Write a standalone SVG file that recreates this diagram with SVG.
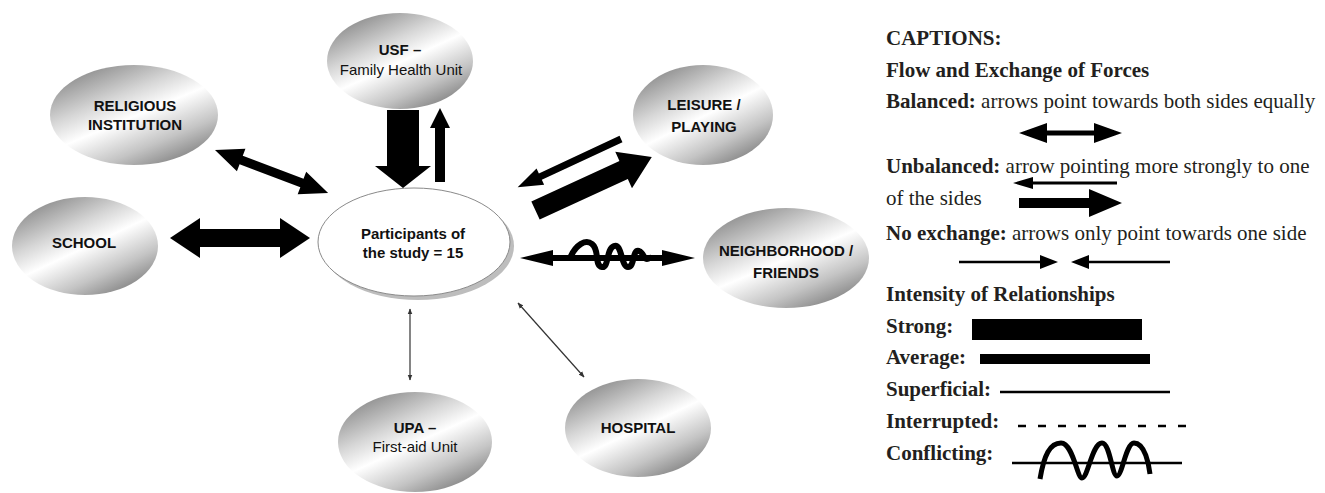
<svg xmlns="http://www.w3.org/2000/svg" width="1325" height="493" viewBox="0 0 1325 493">
<style>
.node{fill:url(#metal);}
.nl{font-family:"Liberation Sans",Arial,sans-serif;font-size:15px;fill:#111;text-anchor:middle;}
.b{font-weight:bold;}
.lg{font-family:"Liberation Serif","Times New Roman",serif;font-size:21px;fill:#231f20;}
.thin{stroke:#333;stroke-width:1.2;fill:none;marker-start:url(#sh);marker-end:url(#sh);}
.blk{fill:#000;}
</style>
<defs>
<linearGradient id="metal" x1="0" y1="0" x2="0.7" y2="1">
<stop offset="0" stop-color="#6e6e6e"/>
<stop offset="0.4" stop-color="#d6d6d6"/>
<stop offset="0.58" stop-color="#ffffff"/>
<stop offset="0.82" stop-color="#c4c4c4"/>
<stop offset="1" stop-color="#8a8a8a"/>
</linearGradient>
<marker id="sh" viewBox="0 0 10 10" refX="9" refY="5" markerWidth="5" markerHeight="5" orient="auto-start-reverse" markerUnits="strokeWidth">
<path d="M0,1 L10,5 L0,9 z" fill="#333"/>
</marker>
</defs>

<g id="node-usf"><ellipse class="node" cx="400" cy="61" rx="73" ry="48"/>
<text class="nl b" x="400" y="55">USF –</text><text class="nl" x="401" y="75">Family Health Unit</text></g>

<g id="node-religious"><ellipse class="node" cx="134" cy="115" rx="84" ry="50"/>
<text class="nl b" x="135" y="111">RELIGIOUS</text><text class="nl b" x="135" y="130">INSTITUTION</text></g>

<g id="node-school"><ellipse class="node" cx="85" cy="246" rx="73" ry="49"/>
<text class="nl b" x="84" y="248">SCHOOL</text></g>

<g id="node-center"><ellipse cx="418" cy="246" rx="96" ry="54" fill="#bdbdbd"/>
<ellipse cx="414" cy="242" rx="96" ry="54" fill="#fff" stroke="#8a8a8a" stroke-width="1"/>
<text class="nl b" x="413" y="239">Participants of</text><text class="nl b" x="413" y="258">the study = 15</text></g>

<g id="node-leisure"><ellipse class="node" cx="703" cy="115" rx="70" ry="50"/>
<text class="nl b" x="704" y="110">LEISURE /</text><text class="nl b" x="704" y="132">PLAYING</text></g>

<g id="node-neighborhood"><ellipse class="node" cx="786" cy="258" rx="83" ry="50"/>
<text class="nl b" x="786" y="256">NEIGHBORHOOD /</text><text class="nl b" x="786" y="278">FRIENDS</text></g>

<g id="node-upa"><ellipse class="node" cx="415" cy="442" rx="77" ry="50"/>
<text class="nl b" x="415" y="433">UPA –</text><text class="nl" x="415" y="452">First-aid Unit</text></g>

<g id="node-hospital"><ellipse class="node" cx="638" cy="428" rx="73" ry="49"/>
<text class="nl b" x="638" y="433">HOSPITAL</text></g>

<g id="connectors">
<!-- religious <-> center -->
<polygon class="blk" transform="translate(215,150) rotate(20.8)" points="0,0 28,-12 28,-4.5 93,-4.5 93,-12 121,0 93,12 93,4.5 28,4.5 28,12"/>
<!-- school <-> center -->
<polygon class="blk" points="170,238 200,218 200,229 280,229 280,218 310,238 280,258 280,247 200,247 200,258"/>
<!-- USF -> center (strong) -->
<polygon class="blk" points="387,110 419,110 419,166 431,166 403,188 375,166 387,166"/>
<!-- center -> USF (weak) -->
<polygon class="blk" points="435,182 445,182 445,128 450,128 440,108 430,128 435,128"/>
<!-- center -> leisure (strong) -->
<polygon class="blk" transform="translate(535.5,210.5) rotate(-24.7)" points="0,-10 97,-10 97,-20 128,0 97,20 97,10 0,10"/>
<!-- leisure -> center (weak) -->
<polygon class="blk" transform="translate(621,139) rotate(155)" points="0,-3.5 89,-3.5 89,-9 114,0 89,9 89,3.5 0,3.5"/>
<!-- neighborhood conflicting -->
<polygon class="blk" points="520,258 553,250 553,255 662,255 662,250 695,258 662,266 662,261 553,261 553,266"/>
<path d="M570,258 C576,244 586,239 592,244 C600,250 594,266 602,267 C609,268 606,249 614,246 C622,243 621,267 628,267 C635,267 632,249 639,251 C645,253 643,262 650,258" fill="none" stroke="#000" stroke-width="6" stroke-linecap="round"/>
<!-- UPA -->
<line class="thin" x1="410" y1="309" x2="410" y2="380"/>
<!-- hospital -->
<line class="thin" x1="518" y1="303" x2="584" y2="377"/>
</g>

<g id="legend">
<text class="lg b" x="886" y="45">CAPTIONS:</text>
<text class="lg b" x="886" y="77">Flow and Exchange of Forces</text>
<text class="lg" x="886" y="108"><tspan class="b">Balanced:</tspan> arrows point towards both sides equally</text>
<polygon class="blk" points="1019,133 1047,123 1047,130.5 1094,130.5 1094,123 1122,133 1094,143 1094,135.5 1047,135.5 1047,143"/>
<text class="lg" x="886" y="173"><tspan class="b">Unbalanced:</tspan> arrow pointing more strongly to one</text>
<polygon class="blk" points="1013,183 1033,177 1033,181.5 1117,181.5 1117,184.5 1033,184.5 1033,189"/>
<text class="lg" x="886" y="205">of the sides</text>
<polygon class="blk" points="1019,198 1089,198 1089,189 1122,203 1089,217 1089,208 1019,208"/>
<text class="lg" x="886" y="240"><tspan class="b">No exchange:</tspan> arrows only point towards one side</text>
<line x1="959" y1="262" x2="1042" y2="262" stroke="#000" stroke-width="2.5"/>
<polygon class="blk" points="1040,255 1058,262 1040,269"/>
<line x1="1087" y1="262" x2="1170" y2="262" stroke="#000" stroke-width="2.5"/>
<polygon class="blk" points="1089,255 1071,262 1089,269"/>
<text class="lg b" x="886" y="301">Intensity of Relationships</text>
<text class="lg b" x="886" y="333">Strong:</text>
<rect class="blk" x="972" y="319" width="170" height="21"/>
<text class="lg b" x="886" y="364">Average:</text>
<rect class="blk" x="980" y="354" width="170" height="10"/>
<text class="lg b" x="886" y="396">Superficial:</text>
<line x1="1000" y1="392" x2="1170" y2="392" stroke="#000" stroke-width="2.5"/>
<text class="lg b" x="886" y="428">Interrupted:</text>
<line x1="1018" y1="426" x2="1190" y2="426" stroke="#000" stroke-width="2.5" stroke-dasharray="8,12"/>
<text class="lg b" x="886" y="460">Conflicting:</text>
<line x1="1012" y1="463" x2="1182" y2="463" stroke="#000" stroke-width="2.5"/>
<path d="M1040,479 C1044,455 1050,443 1061,443 C1073,443 1077,478 1082,478 C1088,478 1092,443 1102,443 C1110,443 1112,476 1117,476 C1122,476 1126,443 1134,443 C1145,443 1149,465 1150,474" fill="none" stroke="#000" stroke-width="5"/>
</g>
</svg>
